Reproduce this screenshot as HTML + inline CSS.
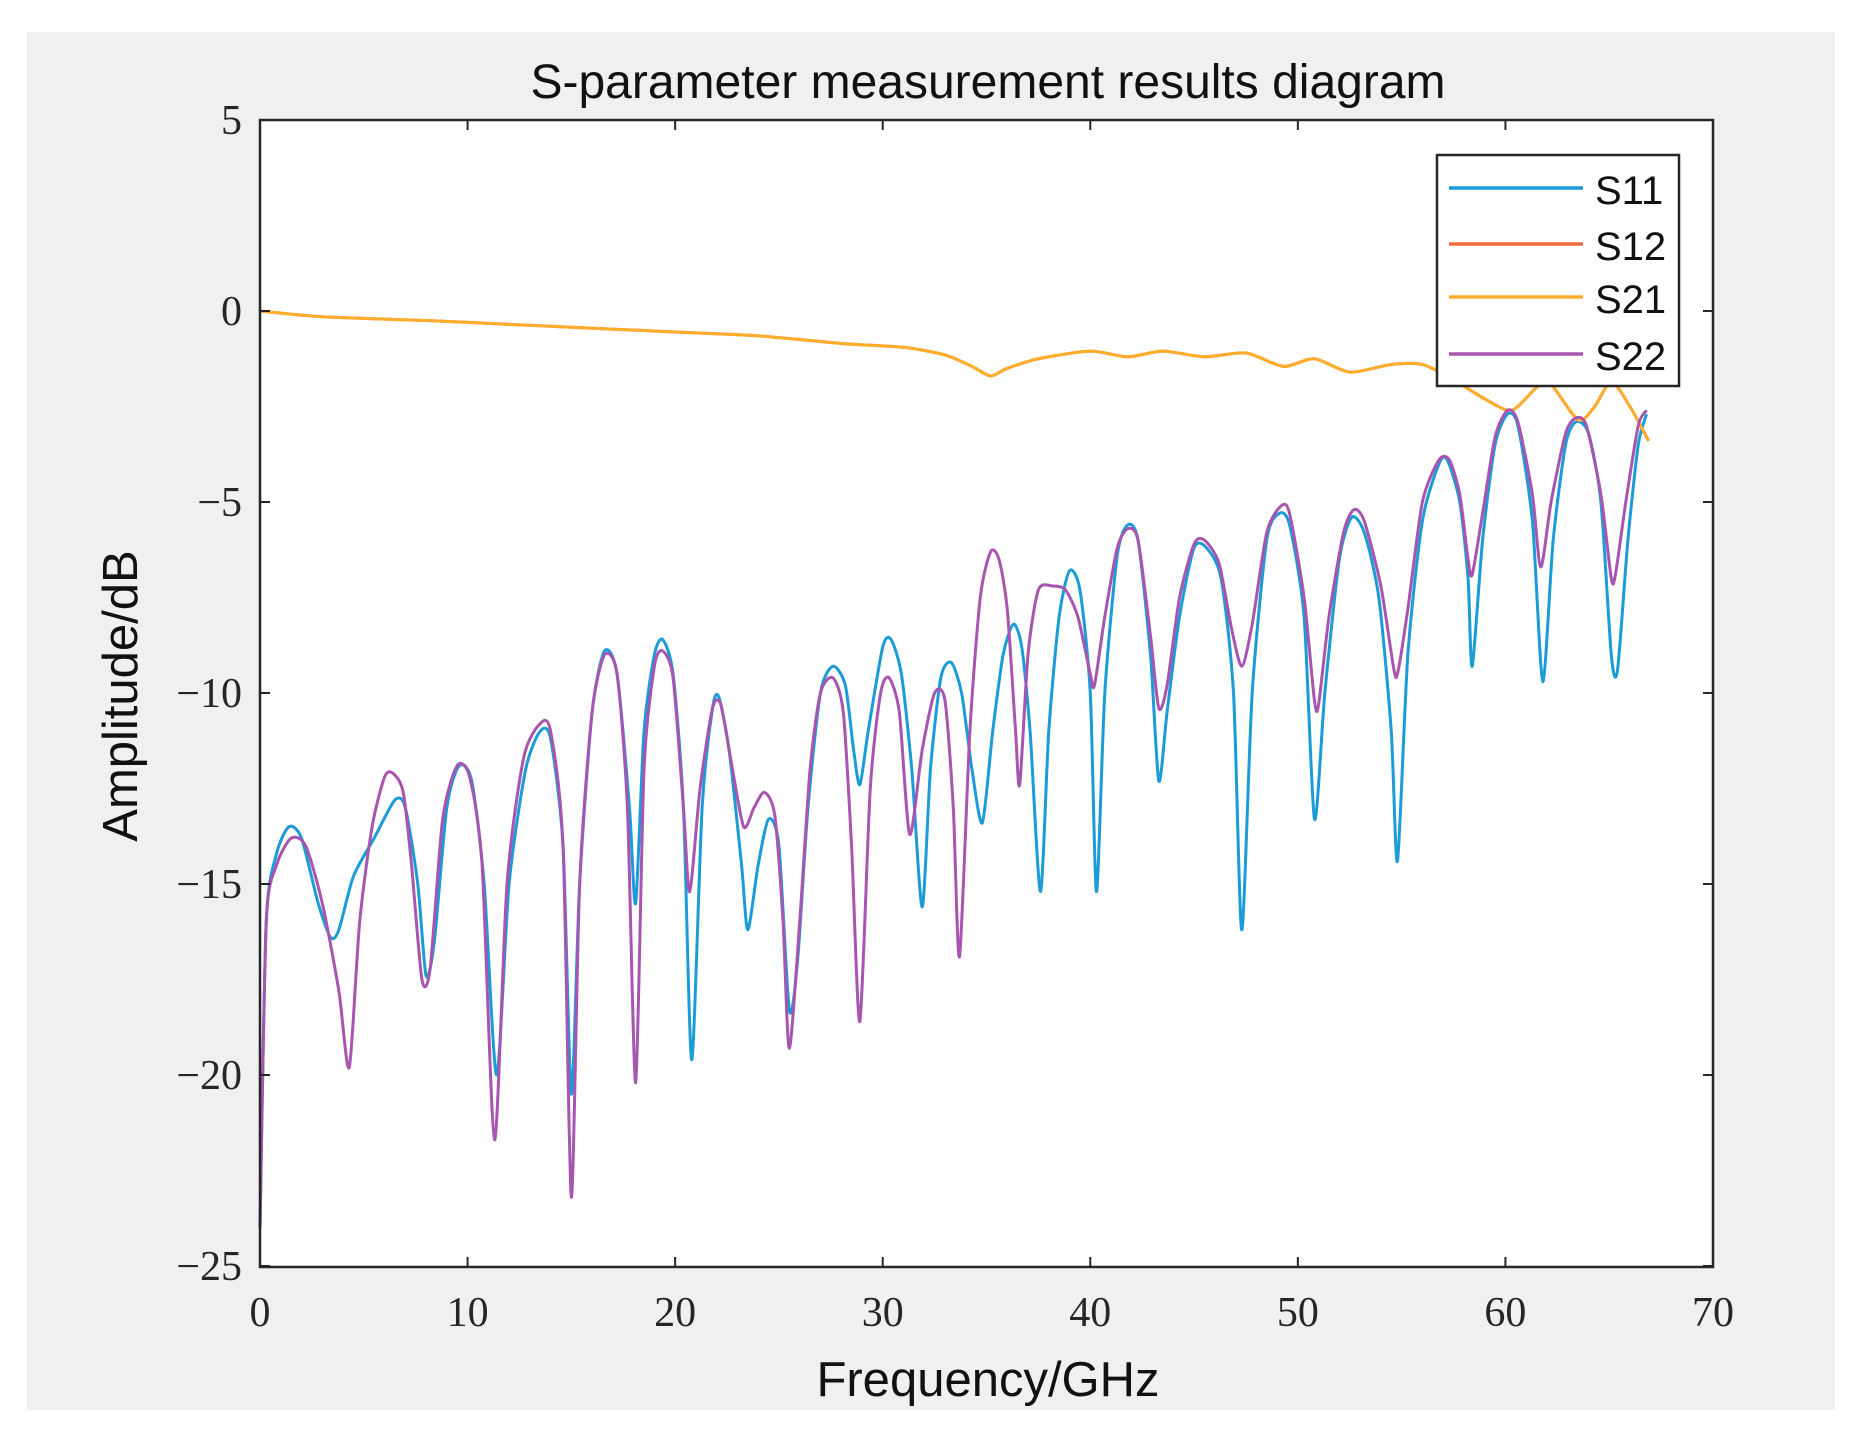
<!DOCTYPE html>
<html><head><meta charset="utf-8"><style>
html,body{margin:0;padding:0;background:#fff;}
svg{display:block}
</style></head><body>
<svg id="c" width="1865" height="1442" xmlns="http://www.w3.org/2000/svg">
<rect x="27" y="32" width="1808" height="1378" fill="#f0f0f0"/>
<rect x="260" y="120" width="1453" height="1147" fill="#fff"/>
<g id="ser" fill="none" stroke-width="3" stroke-linejoin="round"></g>
<rect x="260" y="120" width="1453" height="1147" fill="none" stroke="#262626" stroke-width="2.5"/>
<g id="ticks" stroke="#262626" stroke-width="2"></g>
<g font-family="'Liberation Serif',serif" font-size="42" fill="#262626" id="lab"></g>
<text x="988" y="98" text-anchor="middle" font-family="'Liberation Sans',sans-serif" font-size="48" fill="#111">S-parameter measurement results diagram</text>
<text x="988" y="1396" text-anchor="middle" font-family="'Liberation Sans',sans-serif" font-size="49" fill="#111">Frequency/GHz</text>
<text transform="translate(137,696) rotate(-90)" text-anchor="middle" font-family="'Liberation Sans',sans-serif" font-size="49" fill="#111">Amplitude/dB</text>
<g>
<rect x="1437" y="155" width="242" height="231" fill="#fff" stroke="#262626" stroke-width="2.5"/>
<line x1="1449" y1="188" x2="1583" y2="188" stroke="#1b9bd7" stroke-width="3.5"/>
<line x1="1449" y1="244" x2="1583" y2="244" stroke="#f26b3a" stroke-width="3.5"/>
<line x1="1449" y1="297" x2="1583" y2="297" stroke="#ffad2a" stroke-width="3.5"/>
<line x1="1449" y1="354" x2="1583" y2="354" stroke="#a855b0" stroke-width="3.5"/>
<g font-family="'Liberation Sans',sans-serif" font-size="40" fill="#111">
<text x="1595" y="204">S11</text><text x="1595" y="260">S12</text><text x="1595" y="313">S21</text><text x="1595" y="370">S22</text>
</g></g>
</svg>
<script>
const X=f=>260+f*20.757, Y=d=>311-d*38.2;
const NS="http://www.w3.org/2000/svg";
const t=document.getElementById('ticks'), lab=document.getElementById('lab');
function el(p,tag,a,txt){const e=document.createElementNS(NS,tag);for(const k in a)e.setAttribute(k,a[k]);if(txt)e.textContent=txt;p.appendChild(e);}
for(let f=0;f<=70;f+=10){const x=X(f);
 el(t,'line',{x1:x,y1:1267,x2:x,y2:1257});el(t,'line',{x1:x,y1:120,x2:x,y2:130});
 el(lab,'text',{x:x,y:1326,'text-anchor':'middle'},String(f));}
for(let d=-25;d<=5;d+=5){const y=Y(d);
 el(t,'line',{x1:260,y1:y,x2:270,y2:y});el(t,'line',{x1:1713,y1:y,x2:1703,y2:y});
 el(lab,'text',{x:242,y:y+14,'text-anchor':'end'},d<0?'\u2212'+(-d):String(d));}
const s11=[[0,-24],[0.3,-16],[0.8,-14.2],[1.4,-13.5],[2,-13.8],[2.8,-15.5],[3.4,-16.4],[3.8,-16.2],[4.5,-14.8],[5.5,-13.8],[6.5,-12.8],[7,-13],[7.6,-15],[8,-17.4],[8.4,-16.5],[9,-13],[9.6,-11.9],[10.2,-12.3],[10.8,-15],[11.4,-20],[12,-15],[12.8,-12],[13.5,-11],[14,-11.2],[14.6,-14],[15,-20.5],[15.4,-15],[16,-10.5],[16.6,-8.9],[17.2,-9.5],[17.8,-13],[18.1,-15.5],[18.5,-11],[19,-9],[19.4,-8.6],[19.9,-9.5],[20.4,-13],[20.8,-19.6],[21.3,-13],[21.8,-10.4],[22.1,-10.1],[22.6,-11.5],[23.2,-14.5],[23.5,-16.2],[24,-14.5],[24.5,-13.3],[25,-14],[25.5,-18.3],[25.9,-17],[26.4,-13],[27,-10],[27.6,-9.3],[28.2,-9.8],[28.6,-11.5],[28.9,-12.4],[29.3,-11],[30,-8.8],[30.4,-8.6],[30.9,-9.5],[31.4,-12],[31.9,-15.6],[32.3,-12],[32.8,-9.6],[33.3,-9.2],[33.8,-10],[34.3,-12],[34.8,-13.4],[35.3,-11],[35.8,-9],[36.3,-8.2],[36.7,-8.8],[37.1,-11],[37.6,-15.2],[38,-11],[38.5,-8],[39,-6.8],[39.5,-7.3],[40,-10],[40.3,-15.2],[40.7,-10],[41.3,-6.4],[41.8,-5.6],[42.3,-6],[42.9,-9],[43.3,-12.3],[43.7,-10.5],[44.3,-8],[45,-6.2],[45.6,-6.2],[46.3,-7],[46.9,-10],[47.3,-16.2],[47.8,-10],[48.5,-6],[49.1,-5.3],[49.6,-5.6],[50.3,-8],[50.8,-13.3],[51.3,-10],[52,-6.5],[52.6,-5.4],[53.2,-5.8],[53.9,-7.5],[54.5,-11],[54.8,-14.4],[55.3,-9],[56,-5.5],[56.8,-4],[57.2,-3.9],[57.8,-5],[58.2,-7],[58.4,-9.3],[58.9,-6],[59.5,-3.5],[60.1,-2.7],[60.6,-3],[61.3,-5.5],[61.8,-9.7],[62.3,-6],[62.9,-3.5],[63.4,-2.9],[64,-3.2],[64.6,-5],[65.1,-9],[65.4,-9.4],[65.9,-6],[66.4,-3.5],[66.8,-2.7]];
const s22=[[0,-24],[0.3,-16],[0.8,-14.5],[1.5,-13.8],[2.2,-14],[3,-15.5],[3.8,-17.8],[4.3,-19.8],[4.8,-16],[5.4,-13.5],[6,-12.2],[6.4,-12.1],[6.9,-12.6],[7.3,-14.5],[7.8,-17.5],[8.2,-17.2],[8.8,-13.3],[9.5,-11.9],[10.1,-12.2],[10.7,-14.5],[11.3,-21.7],[11.9,-15],[12.7,-11.7],[13.5,-10.8],[14,-11],[14.6,-14],[15,-23.2],[15.4,-15],[16,-10.5],[16.6,-9],[17.2,-9.5],[17.7,-13],[18.1,-20.2],[18.5,-12],[19,-9.3],[19.4,-8.9],[19.9,-9.6],[20.4,-13],[20.7,-15.2],[21.2,-12.5],[21.8,-10.4],[22.2,-10.3],[22.7,-11.8],[23.3,-13.5],[23.8,-13],[24.3,-12.6],[24.8,-13.2],[25.2,-16],[25.5,-19.3],[26,-16],[26.5,-12],[27,-10],[27.6,-9.6],[28.1,-10.5],[28.5,-14],[28.9,-18.6],[29.4,-12.5],[29.9,-10],[30.3,-9.6],[30.8,-10.5],[31.3,-13.7],[31.9,-11.5],[32.5,-10],[33,-10.2],[33.4,-13],[33.7,-16.9],[34.2,-11],[34.7,-7.5],[35.2,-6.3],[35.6,-6.5],[36,-7.8],[36.4,-11],[36.6,-12.4],[37,-9],[37.5,-7.3],[38.2,-7.2],[38.8,-7.3],[39.4,-8],[40,-9.5],[40.2,-9.8],[40.7,-8],[41.3,-6.2],[41.8,-5.7],[42.3,-6],[42.9,-8.5],[43.3,-10.4],[43.7,-9.8],[44.3,-7.5],[45,-6.1],[45.5,-6],[46.2,-6.6],[46.8,-8.3],[47.3,-9.3],[47.8,-8.2],[48.5,-5.8],[49.2,-5.1],[49.6,-5.3],[50.3,-7.5],[50.8,-10.2],[51,-10.3],[51.5,-8],[52.2,-5.8],[52.7,-5.2],[53.2,-5.5],[54,-7.2],[54.6,-9.3],[54.8,-9.5],[55.3,-7.8],[56,-5],[56.8,-3.9],[57.3,-3.9],[57.8,-4.8],[58.2,-6.5],[58.4,-6.9],[58.9,-5.3],[59.5,-3.3],[60.1,-2.6],[60.6,-2.9],[61.3,-4.8],[61.7,-6.7],[62.2,-5],[62.9,-3.2],[63.4,-2.8],[63.9,-3],[64.6,-4.8],[65.1,-7],[65.3,-6.9],[65.8,-5],[66.4,-3],[66.8,-2.6]];
const s21=[[0,0],[3,-0.15],[8,-0.25],[12,-0.35],[16,-0.45],[20,-0.55],[24,-0.65],[28,-0.85],[31,-0.95],[33,-1.15],[34.3,-1.45],[35.2,-1.7],[36,-1.5],[37.5,-1.25],[40,-1.05],[41.8,-1.2],[43.5,-1.05],[45.5,-1.2],[47.5,-1.1],[49.3,-1.45],[50.8,-1.25],[52.5,-1.6],[54.5,-1.4],[56,-1.4],[57.5,-1.8],[59,-2.3],[60.3,-2.6],[61.5,-2],[62.1,-1.85],[63.5,-2.85],[64.3,-2.5],[65.1,-1.85],[66,-2.5],[66.9,-3.4]];
function path(pts){const P=pts.map(p=>[X(p[0]),Y(p[1])]);
 let d='M'+P[0][0]+','+P[0][1];
 for(let i=0;i<P.length-1;i++){const p0=P[Math.max(i-1,0)],p1=P[i],p2=P[i+1],p3=P[Math.min(i+2,P.length-1)];
  const k=8;
  const c1=[p1[0]+(p2[0]-p0[0])/k,p1[1]+(p2[1]-p0[1])/k],c2=[p2[0]-(p3[0]-p1[0])/k,p2[1]-(p3[1]-p1[1])/k];
  d+=' C'+c1+' '+c2+' '+p2;}
 return d;}
const g=document.getElementById('ser');
el(g,'path',{d:path(s11),stroke:'#1b9bd7'});
el(g,'path',{d:path(s21),stroke:'#f26b3a'});
el(g,'path',{d:path(s21),stroke:'#ffad2a'});
el(g,'path',{d:path(s22),stroke:'#a855b0'});
</script>
</body></html>
